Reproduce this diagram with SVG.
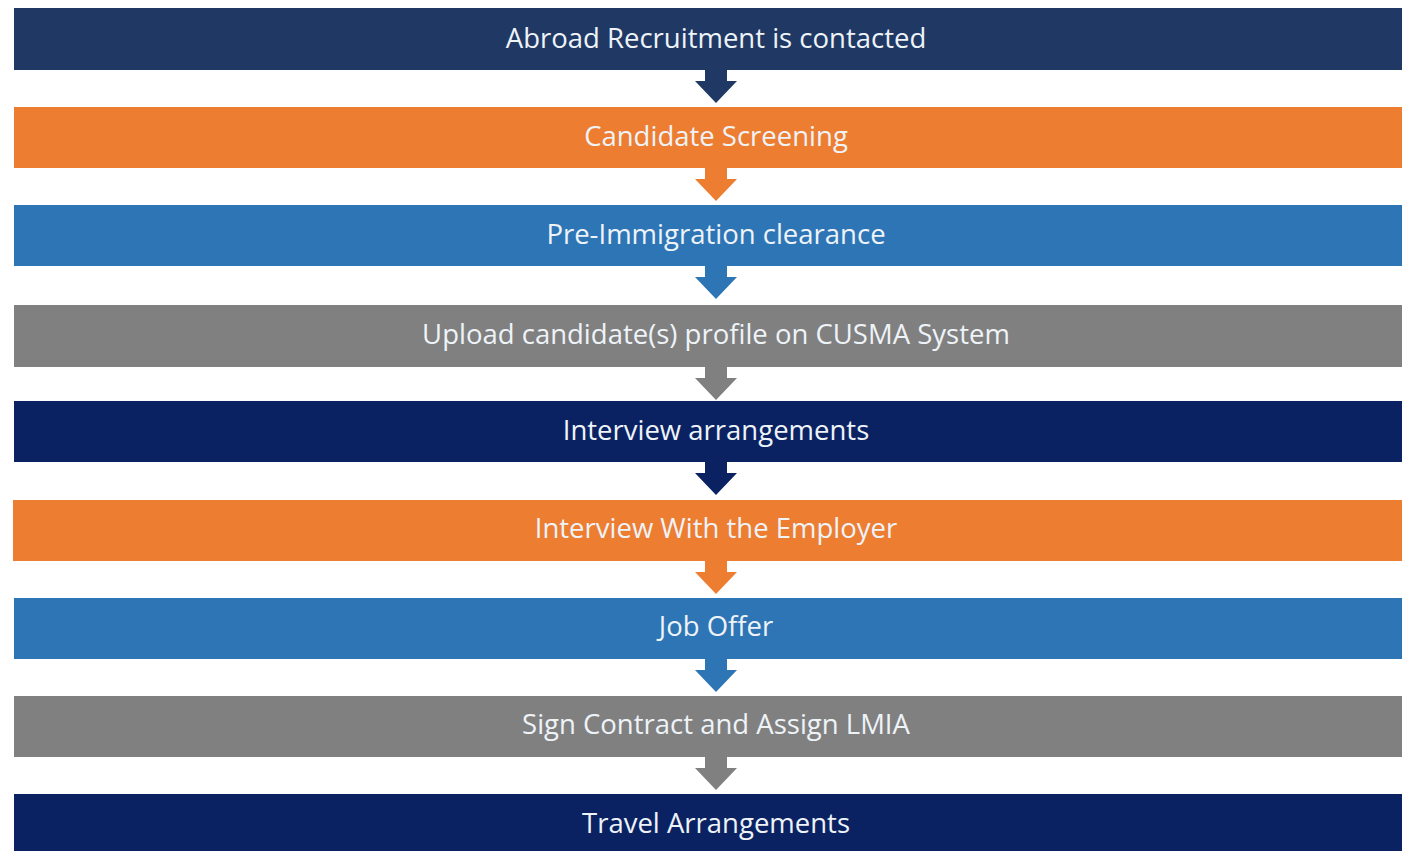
<svg xmlns="http://www.w3.org/2000/svg" width="1402" height="851" viewBox="0 0 1402 851">
<style>
text{font-family:"Open Sans","Noto Sans",sans-serif;font-size:27.5px;fill:#EEF3F8;text-anchor:middle}
.navy{fill:#203864}.dnavy{fill:#0A2262}.org{fill:#ED7D31}.blu{fill:#2E75B6}.gry{fill:#808080}
</style>
<defs>
<path id="arr" d="M-11,0 H11 V12 H21 L0,34 L-21,12 H-11 Z"/>
</defs>
<rect width="1402" height="851" fill="#FFFFFF"/>
<g id="connectors">
<use href="#arr" class="navy" x="716" y="69"/>
<use href="#arr" class="org" x="716" y="167"/>
<use href="#arr" class="blu" x="716" y="265"/>
<use href="#arr" class="gry" x="716" y="366"/>
<use href="#arr" class="dnavy" x="716" y="461"/>
<use href="#arr" class="org" x="716" y="560"/>
<use href="#arr" class="blu" x="716" y="658"/>
<use href="#arr" class="gry" x="716" y="756"/>
</g>
<g id="n1"><rect class="navy" x="14" y="8" width="1388" height="62"/><text x="716" y="48">Abroad Recruitment is contacted</text></g>
<g id="n2"><rect class="org" x="14" y="107" width="1388" height="61"/><text x="716" y="146">Candidate Screening</text></g>
<g id="n3"><rect class="blu" x="14" y="205" width="1388" height="61"/><text x="716" y="244">Pre-Immigration clearance</text></g>
<g id="n4"><rect class="gry" x="14" y="305" width="1388" height="62"/><text x="716" y="344">Upload candidate(s) profile on CUSMA System</text></g>
<g id="n5"><rect class="dnavy" x="14" y="401" width="1388" height="61"/><text x="716" y="440">Interview arrangements</text></g>
<g id="n6"><rect class="org" x="13" y="500" width="1389" height="61"/><text x="716" y="538">Interview With the Employer</text></g>
<g id="n7"><rect class="blu" x="14" y="598" width="1388" height="61"/><text x="716" y="636">Job Offer</text></g>
<g id="n8"><rect class="gry" x="14" y="696" width="1388" height="61"/><text x="716" y="734">Sign Contract and Assign LMIA</text></g>
<g id="n9"><rect class="dnavy" x="14" y="794" width="1388" height="57"/><text x="716" y="833">Travel Arrangements</text></g>
</svg>
